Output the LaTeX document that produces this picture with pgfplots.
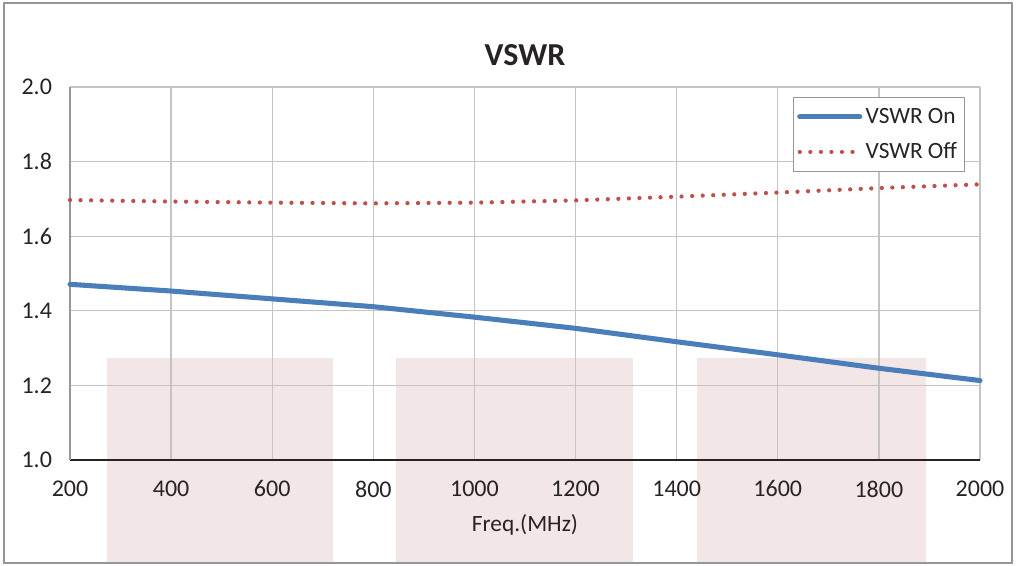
\documentclass[border=0pt]{standalone}
\usepackage{fontspec}
\setmainfont{Carlito}
\usepackage{pgfplots}
\pgfplotsset{compat=1.18}
\definecolor{onblue}{RGB}{74,126,187}
\definecolor{offred}{RGB}{192,80,77}
\definecolor{pinkbg}{RGB}{243,230,231}
\definecolor{gridgray}{RGB}{196,196,196}
\definecolor{framegray}{RGB}{150,150,150}
\definecolor{txt}{RGB}{40,35,35}

\pgfplotstableread{
f     on     off
200   1.471  1.697
400   1.453  1.693
600   1.432  1.690
800   1.411  1.688
1000  1.383  1.690
1200  1.353  1.696
1400  1.317  1.706
1600  1.282  1.717
1800  1.246  1.729
2000  1.213  1.739
}\vswr

\begin{document}
\begin{tikzpicture}
\begin{axis}[
    set layers,
    clip=false,
    scale only axis,
    width=682.5pt, height=279.75pt,
    xmin=200, xmax=2000, ymin=1, ymax=2,
    xtick={200,400,600,800,1000,1200,1400,1600,1800,2000},
    ytick={1,1.2,1.4,1.6,1.8,2},
    yticklabel style={/pgf/number format/fixed, /pgf/number format/fixed zerofill, /pgf/number format/precision=1},
    /pgf/number format/assume math mode=true,
    scaled x ticks=false,
    xticklabel style={/pgf/number format/1000 sep={}},
    major tick length=0pt,
    axis x line*=bottom,
    axis y line*=left,
    x axis line style={draw=txt, line width=1.5pt, -},
    y axis line style={draw=framegray, line width=1.2pt, -},
    grid=major,
    major grid style={draw=gridgray, line width=1pt},
    tick label style={font=\fontsize{18}{21}\selectfont, text=txt},
    xticklabel style={yshift=-12pt},
    yticklabel style={xshift=-10pt},
    xlabel={Freq.(MHz)},
    xlabel style={font=\fontsize{17.5}{20}\selectfont, text=txt, yshift=-6pt},
    title={\textbf{VSWR}},
    title style={font=\fontsize{24}{28}\selectfont, text=txt, at={(rel axis cs:0.5,1)}, anchor=base, yshift=10pt},
    legend cell align=left,
    legend style={at={(rel axis cs:0.9835,0.973)}, anchor=north east,
        draw=framegray, line width=0.9pt, font=\fontsize{17.5}{20}\selectfont, text=txt,
        inner xsep=3pt, inner ysep=6pt, row sep=9pt,
        nodes={inner xsep=2.5pt}},
    legend image code/.code={\draw[#1] (0pt,0pt) -- (45pt,0pt);},
]
\begin{pgfonlayer}{axis background}
\fill[pinkbg] (axis cs:273,0.724) rectangle (axis cs:720,1.273);
\fill[pinkbg] (axis cs:845,0.724) rectangle (axis cs:1314,1.273);
\fill[pinkbg] (axis cs:1440,0.724) rectangle (axis cs:1893,1.273);
\end{pgfonlayer}
\addplot[onblue, line width=3.8pt, line cap=round] table[x=f, y=on] {\vswr};
\addlegendentry{VSWR On}
\addplot[offred, line width=3.2pt, line cap=round, dash pattern=on 0.01pt off 7.9pt] table[x=f, y=off] {\vswr};
\addlegendentry{VSWR Off}
\end{axis}
\pgfresetboundingbox
\path[use as bounding box] (-52.5pt,-78.75pt) rectangle (709.5pt,345pt);
\draw[framegray, line width=1.1pt] (-49.5pt,-77.25pt) rectangle (706.5pt,342.75pt);
\end{tikzpicture}
\end{document}
